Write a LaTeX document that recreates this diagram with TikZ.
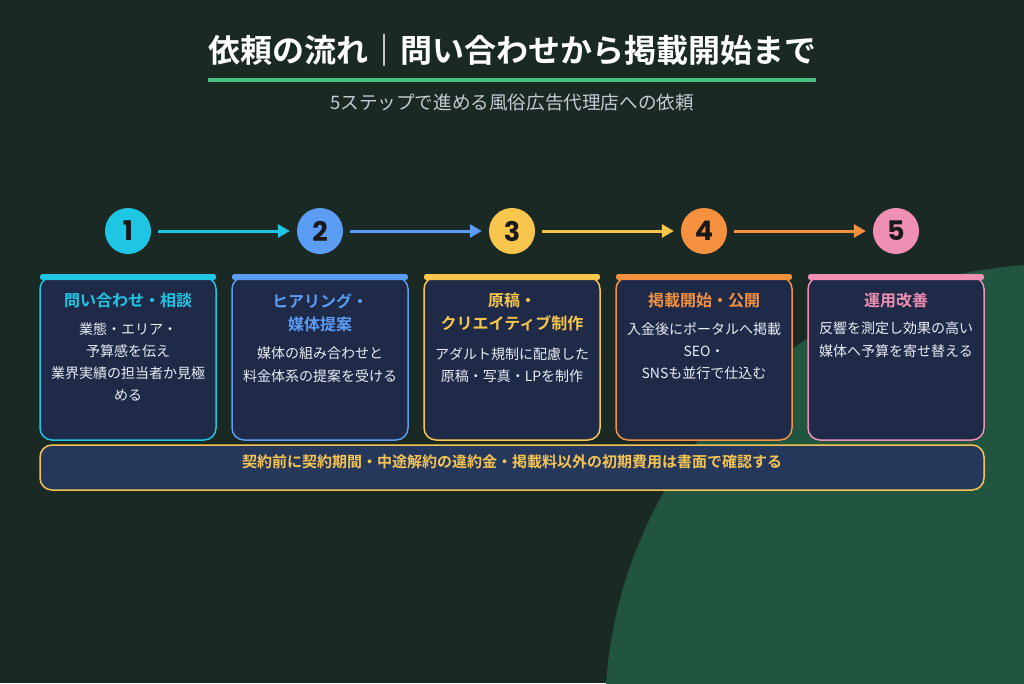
\documentclass[tikz,border=0pt]{standalone}
\usepackage{fontspec}
\setmainfont{Noto Sans CJK JP}[BoldFont={Noto Sans CJK JP Bold}]
\newfontfamily\numfont{Poppins}
\usetikzlibrary{arrows.meta}
\definecolor{bgc}{HTML}{1A2923}
\definecolor{blob}{HTML}{22553F}
\definecolor{cardfill}{HTML}{1E2A47}
\definecolor{notefill}{HTML}{25375A}
\definecolor{cA}{HTML}{1EC6E4}
\definecolor{cB}{HTML}{5B9CF4}
\definecolor{cC}{HTML}{F8C64C}
\definecolor{cD}{HTML}{F5913F}
\definecolor{cE}{HTML}{EF8FB3}
\definecolor{uline}{HTML}{4DC27C}
\definecolor{subc}{HTML}{C3CBD3}
\definecolor{bodyc}{HTML}{E9EDF3}
\definecolor{notec}{HTML}{F5C452}
\tikzset{
  cardbox/.style={draw=#1, line width=1.5pt, fill=cardfill, rounded corners=12pt},
  cardbar/.style={fill=#1, rounded corners=2.5pt},
  numdot/.style={circle, fill=#1, minimum size=46pt, inner sep=0pt, text=black!90,
    font=\numfont\bfseries\fontsize{27}{27}\selectfont},
  flow/.style={draw=#1, line width=3pt, shorten <=7pt, shorten >=7pt,
    -{Triangle[length=12pt,width=13pt]}},
  cardtitle/.style={text=#1, anchor=north, inner sep=0pt, align=center,
    font=\bfseries\fontsize{16}{23}\selectfont},
  cardbody/.style={text=bodyc, anchor=north, inner sep=0pt, align=center,
    font=\fontsize{14}{22.3}\selectfont},
}
\begin{document}
\begin{tikzpicture}[x=1pt,y=-1pt]
\useasboundingbox (0,0) rectangle (1024,683);
\fill[bgc] (0,0) rectangle (1024,683);
\begin{scope}
  \clip (0,0) rectangle (1024,683);
  \fill[blob] (1056,715) circle[radius=451];
\end{scope}

% title
\node[text=white, font=\bfseries\fontsize{32}{32}\selectfont] (title) at (512,50) {依頼の流れ｜問い合わせから掲載開始まで};
\draw[uline, line width=3.5pt] (208,80) -- (816,80);
\node[text=subc, font=\fontsize{18.6}{18.6}\selectfont] (sub) at (512,103) {5ステップで進める風俗広告代理店への依頼};

% cards
\path[cardbox=cA] (40,277) rectangle (216,440);
\path[cardbar=cA] (40,274) rectangle (216,280);
\path[cardbox=cB] (232,277) rectangle (408,440);
\path[cardbar=cB] (232,274) rectangle (408,280);
\path[cardbox=cC] (424,277) rectangle (600,440);
\path[cardbar=cC] (424,274) rectangle (600,280);
\path[cardbox=cD] (616,277) rectangle (792,440);
\path[cardbar=cD] (616,274) rectangle (792,280);
\path[cardbox=cE] (808,277) rectangle (984,440);
\path[cardbar=cE] (808,274) rectangle (984,280);

% number circles
\node[numdot=cA] (n1) at (128,231) {1};
\node[numdot=cB] (n2) at (320,231) {2};
\node[numdot=cC] (n3) at (512,231) {3};
\node[numdot=cD] (n4) at (704,231) {4};
\node[numdot=cE] (n5) at (896,231) {5};

\draw[flow=cA] (n1) -- (n2);
\draw[flow=cB] (n2) -- (n3);
\draw[flow=cC] (n3) -- (n4);
\draw[flow=cD] (n4) -- (n5);

% card texts
\node[cardtitle=cA] (t1) at (128,293) {問い合わせ・相談};
\node[cardbody] (b1) at (128,322) {業態・エリア・\\予算感を伝え\\業界実績の担当者か見極\\める};
\node[cardtitle=cB] (t2) at (320,293) {ヒアリング・\\媒体提案};
\node[cardbody] (b2) at (320,347) {媒体の組み合わせと\\料金体系の提案を受ける};
\node[cardtitle=cC] (t3) at (512,293) {原稿・\\クリエイティブ制作};
\node[cardbody] (b3) at (512,347) {アダルト規制に配慮した\\原稿・写真・LPを制作};
\node[cardtitle=cD] (t4) at (704,293) {掲載開始・公開};
\node[cardbody] (b4) at (704,322) {入金後にポータルへ掲載\\SEO・\\SNSも並行で仕込む};
\node[cardtitle=cE] (t5) at (896,293) {運用改善};
\node[cardbody] (b5) at (896,322) {反響を測定し効果の高い\\媒体へ予算を寄せ替える};

% note
\path[draw=notec, line width=1.5pt, fill=notefill, rounded corners=12pt] (40,445) rectangle (984,490);
\node[text=notec, font=\bfseries\fontsize{15}{15}\selectfont] (note) at (512,462) {契約前に契約期間・中途解約の違約金・掲載料以外の初期費用は書面で確認する};
\end{tikzpicture}
\end{document}
